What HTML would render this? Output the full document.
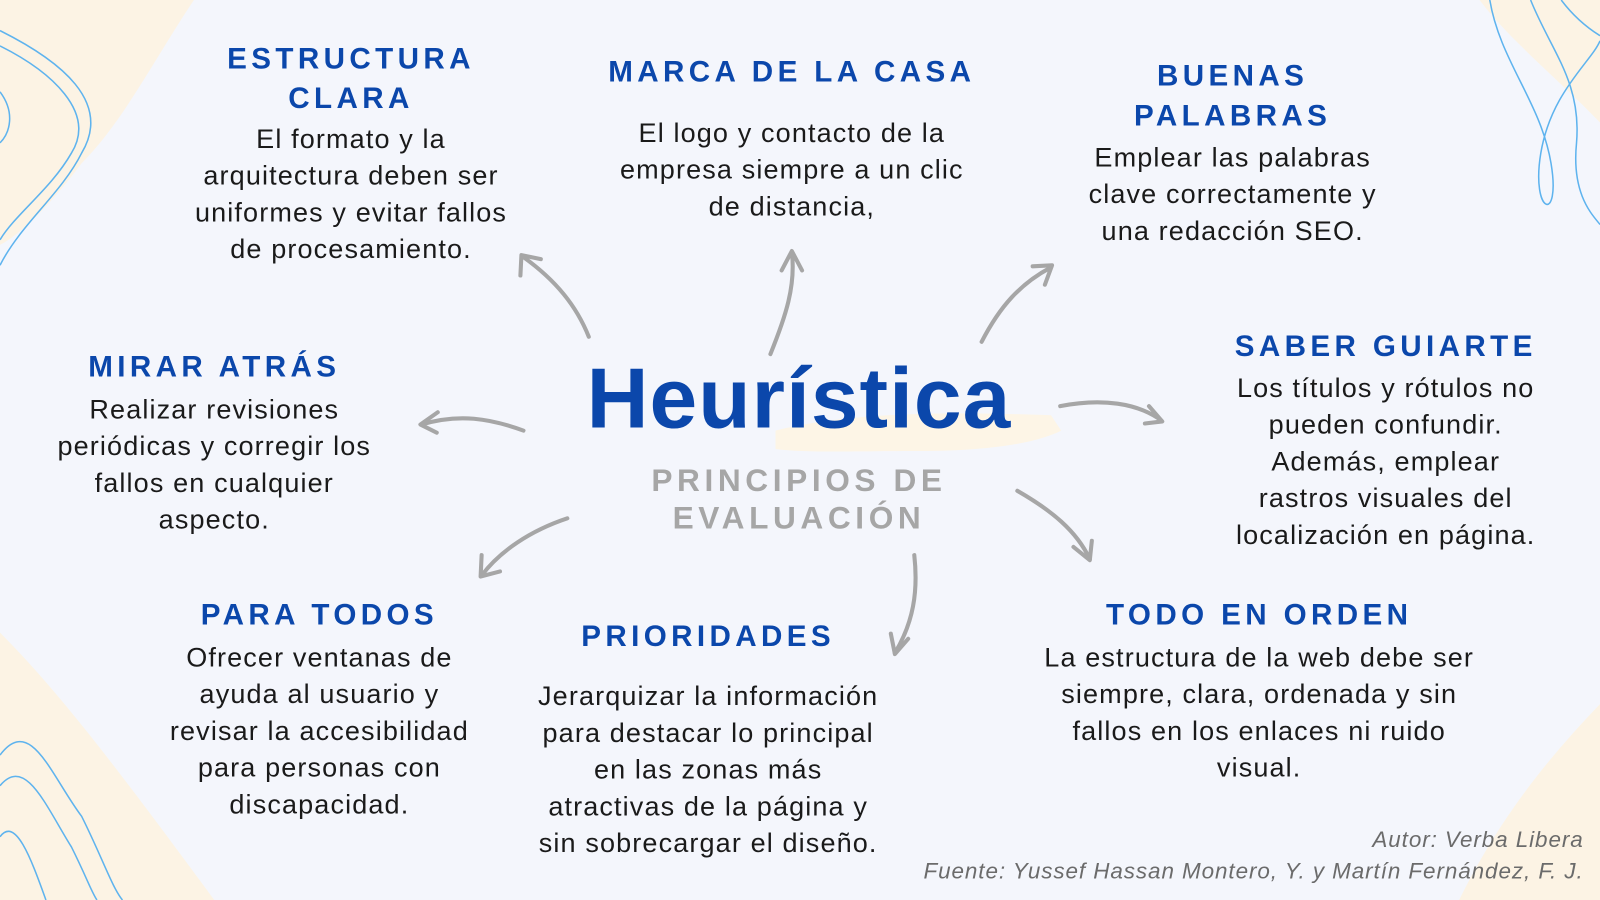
<!DOCTYPE html>
<html><head><meta charset="utf-8"><style>
html,body{margin:0;padding:0;width:1600px;height:900px;overflow:hidden;background:#f4f6fc}
#w{position:absolute;left:0;top:0;width:1568px;height:882px;transform:scale(1.020408);transform-origin:0 0;font-family:"Liberation Sans",sans-serif}
.t{position:absolute;transform:translateX(-50%);text-align:center;white-space:nowrap}
.h{color:#0b47ab;font-weight:bold;font-size:29px;letter-spacing:4.3px;line-height:39px}
.b{color:#1a1a1a;font-size:26.5px;letter-spacing:1.1px;line-height:36px}
</style></head><body><div id="w">
<svg width="1568" height="882" style="position:absolute;left:0;top:0">
<path d="M0 0 H190 C150 60 120 120 80 160 C50 200 20 230 0 240 Z" fill="#fcf3e4"/>
<path d="M0 620 C60 680 120 760 210 882 H0 Z" fill="#fcf3e4"/>
<path d="M1568 690 C1520 740 1470 800 1430 882 H1568 Z" fill="#fcf3e4"/>
<path d="M1450 0 H1568 V120 C1530 80 1480 40 1450 0Z" fill="#fcf3e4"/>
<g fill="none" stroke="#5eb3ee" stroke-width="1.5">
<path d="M0 30 C60 60 110 100 80 150 C60 190 20 220 0 260"/>
<path d="M0 45 C50 70 95 110 70 150 C50 185 15 210 0 235"/>
<path d="M0 90 C15 110 10 130 0 140"/>
<path d="M0 740 C30 700 50 760 80 800 C100 840 110 870 120 882"/>
<path d="M0 770 C25 740 45 790 70 830 C85 860 90 875 95 882"/>
<path d="M0 820 C15 800 30 840 45 882"/>
<path d="M1460 0 C1470 60 1510 100 1520 160 C1530 220 1500 210 1510 150 C1520 90 1560 60 1568 40"/>
<path d="M1500 0 C1520 50 1550 80 1545 140 C1540 190 1560 210 1568 220"/>
<path d="M1530 0 C1545 20 1560 30 1568 35"/>
</g>
<path d="M760 422 C820 407 900 402 1030 407 L1040 422 C1020 432 980 442 900 442 C840 442 790 444 760 440Z" fill="#fdf5e6"/>
<g fill="none" stroke="#a6a6a6" stroke-width="4" stroke-linecap="round" stroke-linejoin="round">
<path d="M577 330 C565 300 545 275 513 252"/><path d="M510 270 L511 250 L530 254"/>
<path d="M755 347 C770 310 780 280 776 247"/><path d="M766 265 L776 246 L786 265"/>
<path d="M962 335 C980 300 1000 278 1030 262"/><path d="M1012 261 L1031 260 L1024 279"/>
<path d="M1039 398 C1080 390 1115 395 1138 412"/><path d="M1126 398 L1139 413 L1122 415"/>
<path d="M997 481 C1030 500 1055 520 1068 548"/><path d="M1052 536 L1068 549 L1070 530"/>
<path d="M896 544 C900 580 895 610 877 640"/><path d="M873 621 L877 641 L890 626"/>
<path d="M556 508 C520 520 490 540 472 564"/><path d="M472 544 L471 565 L490 560"/>
<path d="M513 422 C480 410 450 405 413 416"/><path d="M429 404 L412 416 L428 424"/>
</g>
</svg>
<div class="t h" style="left:344px;top:39px">ESTRUCTURA<br>CLARA</div>
<div class="t b" style="left:344px;top:118px">El formato y la<br>arquitectura deben ser<br>uniformes y evitar fallos<br>de procesamiento.</div>
<div class="t h" style="left:776px;top:52px">MARCA DE LA CASA</div>
<div class="t b" style="left:776px;top:112px">El logo y contacto de la<br>empresa siempre a un clic<br>de distancia,</div>
<div class="t h" style="left:1208px;top:56px">BUENAS<br>PALABRAS</div>
<div class="t b" style="left:1208px;top:136px">Emplear las palabras<br>clave correctamente y<br>una redacción SEO.</div>
<div class="t h" style="left:1358px;top:321px">SABER GUIARTE</div>
<div class="t b" style="left:1358px;top:362px">Los títulos y rótulos no<br>pueden confundir.<br>Además, emplear<br>rastros visuales del<br>localización en página.</div>
<div class="t h" style="left:210px;top:341px">MIRAR ATRÁS</div>
<div class="t b" style="left:210px;top:383px">Realizar revisiones<br>periódicas y corregir los<br>fallos en cualquier<br>aspecto.</div>
<div class="t h" style="left:313px;top:584px">PARA TODOS</div>
<div class="t b" style="left:313px;top:626px">Ofrecer ventanas de<br>ayuda al usuario y<br>revisar la accesibilidad<br>para personas con<br>discapacidad.</div>
<div class="t h" style="left:694px;top:605px">PRIORIDADES</div>
<div class="t b" style="left:694px;top:664px">Jerarquizar la información<br>para destacar lo principal<br>en las zonas más<br>atractivas de la página y<br>sin sobrecargar el diseño.</div>
<div class="t h" style="left:1234px;top:584px">TODO EN ORDEN</div>
<div class="t b" style="left:1234px;top:626px">La estructura de la web debe ser<br>siempre, clara, ordenada y sin<br>fallos en los enlaces ni ruido<br>visual.</div>
<div class="t" style="left:783px;top:340px;color:#0b47ab;font-weight:bold;font-size:84px;line-height:100px;letter-spacing:1px">Heurística</div>
<div class="t" style="left:783px;top:452px;color:#a6a6a6;font-weight:bold;font-size:31px;line-height:37px;letter-spacing:4.5px">PRINCIPIOS DE<br>EVALUACIÓN</div>
<div style="position:absolute;right:16px;top:807px;text-align:right;color:#6b6b6b;font-style:italic;font-size:22px;letter-spacing:0.9px;line-height:31px">Autor: Verba Libera<br>Fuente: Yussef Hassan Montero, Y. y Martín Fernández, F. J.</div>
</div></body></html>
